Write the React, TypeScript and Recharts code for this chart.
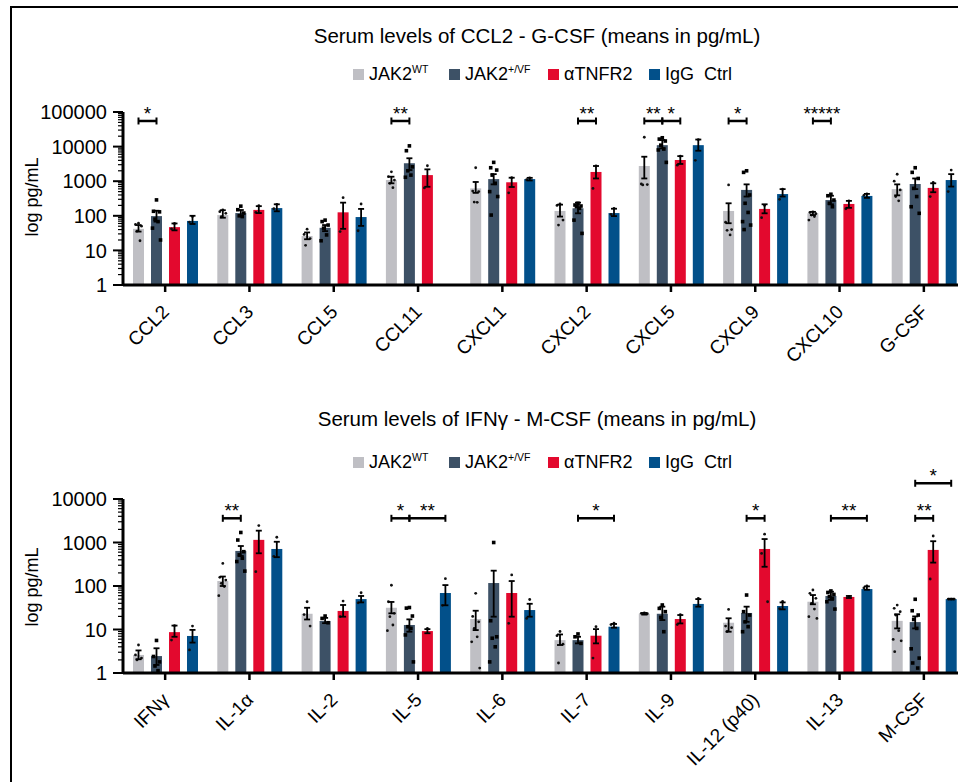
import React from 'react';
import { ComposedChart, Bar, XAxis, YAxis, ErrorBar } from 'recharts';

const FONT = '"Liberation Sans", Arial, Helvetica, sans-serif';
const SERIES = ['wt', 'vf', 'at', 'igg'];
const COLORS = ['#bfbfc4', '#3d5166', '#e3092e', '#02508a'];
const LEGEND_NAMES = [
  { base: 'JAK2', sup: 'WT' },
  { base: 'JAK2', sup: '+/VF' },
  { base: '\u03b1TNFR2', sup: '' },
  { base: 'IgG  Ctrl', sup: '' },
];
const TITLE_TOP = 'Serum levels of CCL2 - G-CSF (means in pg/mL)';
const TITLE_BOTTOM = 'Serum levels of IFN\u03b3 - M-CSF (means in pg/mL)';
const Y_LABEL = 'log pg/mL';

// ---------- Panel 1: CCL2 - G-CSF ----------
const chemCats = ['CCL2', 'CCL3', 'CCL5', 'CCL11', 'CXCL1', 'CXCL2', 'CXCL5', 'CXCL9', 'CXCL10', 'G-CSF'];
const chemTicks = [1, 10, 100, 1000, 10000, 100000];

const chemWtMean = [42, 105, 26, 1080, 620, 138, 2750, 138, 118, 590];
const chemWtLo = [35, 88, 21, 870, 460, 95, 1200, 61, 105, 390];
const chemWtHi = [54, 145, 33, 1350, 950, 210, 5100, 230, 130, 810];
const chemWtDots = [
  [61, 56, 50, 36, 19],
  [147, 132, 118, 94],
  [41, 29, 22, 14],
  [1870, 1350, 1080, 870, 650],
  [2450, 520, 500, 250, 245],
  [220, 200, 75, 54],
  [18600, 830, 800, 780],
  [780, 65, 40, 38, 28],
  [130, 125, 115, 105, 95, 75],
  [1590, 1000, 560, 360, 270],
];

const chemVfMean = [98, 120, 45, 3300, 1150, 165, 11000, 560, 285, 830];
const chemVfLo = [68, 100, 36, 2100, 810, 118, 8900, 360, 215, 590];
const chemVfHi = [140, 147, 54, 4600, 1600, 240, 15500, 810, 380, 1200];
const chemVfDots = [
  [288, 135, 130, 80, 68, 44, 20],
  [190, 150, 120, 100, 95],
  [75, 68, 54, 44, 28, 19],
  [10500, 7600, 2600, 2000, 1500, 1300],
  [3500, 2450, 2100, 1500, 870, 500, 360, 105],
  [230, 205, 192, 183, 165, 75, 31],
  [18000, 16500, 14500, 11000, 8500, 8000, 3500],
  [2000, 1800, 400, 230, 125, 68, 54, 40],
  [420, 380, 285, 230, 183],
  [2450, 1800, 1200, 620, 360, 183, 118],
];

const chemAtMean = [47, 148, 126, 1500, 930, 1850, 4100, 158, 220, 640];
const chemAtLo = [38, 120, 42, 690, 680, 1200, 3150, 118, 170, 480];
const chemAtHi = [60, 190, 240, 2200, 1260, 2750, 5300, 215, 270, 870];
const chemAtDots = [[60, 42], [195, 125], [333, 35], [2800, 640], [1260, 460], [2750, 620], [5300, 2900], [200, 88], [270, 160], [920, 360]];

const chemIgMean = [71, 167, 92, null, 1150, 120, 11000, 425, 375, 1080];
const chemIgLo = [58, 135, 51, null, 1050, 98, 7600, 360, 330, 700];
const chemIgHi = [100, 215, 158, null, 1250, 160, 16000, 590, 430, 1600];
const chemIgDots = [[95, 66], [215, 160], [219, 37], [], [1250, 1100], [165, 110], [16000, 4000], [590, 300], [430, 390], [2100, 500]];

const chemBrackets = [
  { cat: 'CCL2', from: 0, to: 1, label: '*', at: 55000 },
  { cat: 'CCL11', from: 0, to: 1, label: '**', at: 55000 },
  { cat: 'CXCL2', from: 1, to: 2, label: '**', at: 55000 },
  { cat: 'CXCL5', from: 0, to: 1, label: '**', at: 55000 },
  { cat: 'CXCL5', from: 1, to: 2, label: '*', at: 55000 },
  { cat: 'CXCL9', from: 0, to: 1, label: '*', at: 55000 },
  { cat: 'CXCL10', from: 0, to: 1, label: '*****', at: 55000 },
];

// ---------- Panel 2: IFNγ - M-CSF ----------
const cytoCats = ['IFN\u03b3', 'IL-1\u03b1', 'IL-2', 'IL-5', 'IL-6', 'IL-7', 'IL-9', 'IL-12 (p40)', 'IL-13', 'M-CSF'];
const cytoTicks = [1, 10, 100, 1000, 10000];

const cytoWtMean = [2.6, 130, 23, 31.6, 17.4, 5.7, 23, 14.3, 43.5, 15.8];
const cytoWtLo = [2.07, 100, 17, 23.5, 9.7, 4.4, 22, 8.9, 38, 10.6];
const cytoWtHi = [3.3, 165, 31.6, 43, 27, 7.7, 24, 18.1, 62, 22.4];
const cytoWtDots = [
  [4.4, 2.6, 2.2, 2.0],
  [330, 158, 137, 115, 97, 60],
  [43.5, 22, 12],
  [104, 43.5, 23.5, 19.7, 12.7, 9.4],
  [68, 20, 15, 10.6, 6.8, 5.2, 1.3],
  [9, 7.2, 4.6, 1.7],
  [24, 23.5, 23],
  [29, 12, 11, 9],
  [81, 68, 52, 40, 29.5, 19.7, 18],
  [36.5, 30.6, 25.7, 21.5, 9.4, 5.9, 5.5, 3.1],
];

const cytoVfMean = [2.45, 640, 15.7, 12.7, 117, 5.7, 23, 24, 59, 14.8];
const cytoVfLo = [1.53, 490, 14, 8.9, 19.7, 4.8, 16.5, 15, 48, 10.6];
const cytoVfHi = [3.7, 830, 18.5, 17.1, 225, 6.8, 33.5, 33.5, 74, 20];
const cytoVfDots = [
  [5.6, 2.4, 1.8, 1.45, 1.13],
  [1700, 1140, 615, 520, 435, 365, 220],
  [20.4, 18, 14.3],
  [32, 31, 20.4, 11.6, 10.6, 7.5, 1.8],
  [1000, 15.9, 6.8, 6.3, 4, 1.8],
  [7.9, 6.8, 4.8],
  [36.6, 30.6, 25.7, 19, 8.9],
  [62, 25.7, 21.5, 15, 11.6, 8.9],
  [77, 71, 64, 57, 52, 43.5, 29.5],
  [49.5, 27, 21.5, 17, 10.6, 3.6, 2.2, 1.7, 1.3],
];

const cytoAtMean = [8.7, 1150, 26.7, 9.2, 69, 7.2, 17.4, 710, 56, 675];
const cytoAtLo = [6.8, 565, 19.7, 8.2, 19.7, 4.8, 13.8, 277, 53, 345];
const cytoAtHi = [12.3, 1870, 36.6, 10.2, 130, 10.2, 21.5, 1200, 59, 1070];
const cytoAtDots = [[12.3, 5.7], [2450, 213], [45, 19.7], [10.6], [180, 13.9], [11.6, 2.2], [22, 13], [1550, 560, 43.5], [58], [1410, 145]];

const cytoIgMean = [7.1, 710, 50, 69, 28, 11.6, 38.7, 34.7, 85, 50];
const cytoIgLo = [5, 460, 42, 36, 19.7, 11, 33.5, 29, 82, 49];
const cytoIgHi = [9.8, 1040, 59, 105, 39, 13.4, 50, 42, 98, 51];
const cytoIgDots = [[12, 3.4], [1320, 480], [70, 41], [147, 36], [49, 18], [14, 13], [52], [44, 30], [100, 90], [50, 50, 50]];

const cytoBrackets = [
  { cat: 'IL-1\u03b1', from: 0, to: 1, label: '**', at: 3600 },
  { cat: 'IL-5', from: 0, to: 1, label: '*', at: 3600 },
  { cat: 'IL-5', from: 1, to: 3, label: '**', at: 3600 },
  { cat: 'IL-7', from: 1, to: 3, label: '*', at: 3600 },
  { cat: 'IL-12 (p40)', from: 1, to: 2, label: '*', at: 3600 },
  { cat: 'IL-13', from: 1, to: 3, label: '**', at: 3600 },
  { cat: 'M-CSF', from: 1, to: 2, label: '**', at: 3600 },
  { cat: 'M-CSF', from: 1, to: 3, label: '*', at: 23000 },
];

// ---------- helpers ----------
const BAR_SIZE = 11;
const BAR_GAP = 7;
const STEP = BAR_SIZE + BAR_GAP;
const JITTER = [0, -3, 3, -1.5, 1.5, -4, 4, -2.5, 2.5, -1, 1];

function buildRows(cats: string[], means: any[][], los: any[][], his: any[][], dots: number[][][], brackets: any[]) {
  return cats.map((name, i) => {
    const row: any = { name, brackets: brackets.filter((b) => b.cat === name) };
    SERIES.forEach((k, s) => {
      const m = means[s][i];
      row[k] = m;
      row[k + 'Err'] = m == null ? undefined : [m - los[s][i], his[s][i] - m];
      row[k + 'Dots'] = dots[s][i];
    });
    return row;
  });
}

const chemRows = buildRows(
  chemCats,
  [chemWtMean, chemVfMean, chemAtMean, chemIgMean],
  [chemWtLo, chemVfLo, chemAtLo, chemIgLo],
  [chemWtHi, chemVfHi, chemAtHi, chemIgHi],
  [chemWtDots, chemVfDots, chemAtDots, chemIgDots],
  chemBrackets
);
const cytoRows = buildRows(
  cytoCats,
  [cytoWtMean, cytoVfMean, cytoAtMean, cytoIgMean],
  [cytoWtLo, cytoVfLo, cytoAtLo, cytoIgLo],
  [cytoWtHi, cytoVfHi, cytoAtHi, cytoIgHi],
  [cytoWtDots, cytoVfDots, cytoAtDots, cytoIgDots],
  cytoBrackets
);

function allTicks(majors: number[]) {
  const out: number[] = [];
  for (let i = 0; i < majors.length; i++) {
    out.push(majors[i]);
    if (i < majors.length - 1) for (let m = 2; m <= 9; m++) out.push(majors[i] * m);
  }
  return out;
}

function makeShape(si: number, max: number) {
  return function Shape(props: any) {
    const { x, y, width, height, payload, background } = props;
    const mean = payload ? payload[SERIES[si]] : null;
    if (mean == null || !(height > 0)) return null;
    const bottom = y + height;
    const ppd = background && background.height > 0 ? background.height / Math.log10(max) : height / Math.log10(mean);
    const yOf = (v: number) => bottom - Math.log10(v) * ppd;
    const cx = x + width / 2;
    const dots: number[] = payload[SERIES[si] + 'Dots'] || [];
    const brackets: any[] = si === 0 ? payload.brackets || [] : [];
    return (
      <g>
        <rect x={x} y={y} width={width} height={height} fill={COLORS[si]} />
        {dots.map((d, i) => {
          const dx = cx + JITTER[i % JITTER.length];
          return si === 1 ? (
            <rect key={i} x={dx - 1.8} y={yOf(d) - 1.8} width={3.6} height={3.6} fill="#000" />
          ) : (
            <circle key={i} cx={dx} cy={yOf(d)} r={1.4} fill="#111" />
          );
        })}
        {brackets.map((b, i) => {
          const xa = cx + b.from * STEP;
          const xb = cx + b.to * STEP;
          const yb = yOf(b.at);
          return (
            <g key={'b' + i}>
              <line x1={xa} x2={xb} y1={yb} y2={yb} stroke="#000" strokeWidth={2.5} />
              <line x1={xa} x2={xa} y1={yb - 3.5} y2={yb + 3.5} stroke="#000" strokeWidth={2} />
              <line x1={xb} x2={xb} y1={yb - 3.5} y2={yb + 3.5} stroke="#000" strokeWidth={2} />
              <text x={(xa + xb) / 2} y={yb - 1} textAnchor="middle" fontSize={19} fontFamily={FONT} fill="#000">
                {b.label}
              </text>
            </g>
          );
        })}
      </g>
    );
  };
}

function makeYTick(majors: number[]) {
  return function YTick(props: any) {
    const { x, y, payload } = props;
    const isMajor = majors.includes(payload.value);
    return (
      <g>
        <line x1={x - (isMajor ? 10 : 5)} x2={x} y1={y} y2={y} stroke="#000" strokeWidth={isMajor ? 2 : 1.2} />
        {isMajor && (
          <text x={x - 16} y={y} dy="0.36em" textAnchor="end" fontSize={20} fontFamily={FONT} fill="#000">
            {String(payload.value)}
          </text>
        )}
      </g>
    );
  };
}

function XTick(props: any) {
  const { x, y, payload } = props;
  const ax = x + 5;
  const ay = y + 19;
  return (
    <text x={ax} y={ay} transform={`rotate(-45, ${ax}, ${ay})`} textAnchor="end" fontSize={19} fontFamily={FONT} fill="#000">
      {payload.value}
    </text>
  );
}

function Panel({ rows, majors, top, height, marginTop, axisHeight }: any) {
  const max = majors[majors.length - 1];
  return (
    <div style={{ position: 'absolute', left: 0, top, width: 980, height }}>
      <ComposedChart
        width={980}
        height={height}
        data={rows}
        margin={{ top: marginTop, right: 14, left: 63, bottom: 0 }}
        barGap={BAR_GAP}
        style={{ overflow: 'visible' }}
      >
        <XAxis
          dataKey="name"
          type="category"
          interval={0}
          height={axisHeight}
          tickSize={7}
          tickMargin={2}
          tickLine={{ stroke: '#000', strokeWidth: 2.5 }}
          axisLine={{ stroke: '#000', strokeWidth: 3 }}
          tick={<XTick />}
        />
        <YAxis
          type="number"
          scale="log"
          domain={[1, max]}
          ticks={allTicks(majors)}
          interval={0}
          width={60}
          tickSize={0}
          tickMargin={0}
          tickLine={false}
          axisLine={{ stroke: '#000', strokeWidth: 3 }}
          tick={makeYTick(majors)}
        />
        {SERIES.map((k, si) => (
          <Bar key={k} dataKey={k} barSize={BAR_SIZE} fill={COLORS[si]} isAnimationActive={false} shape={makeShape(si, max)}>
            <ErrorBar dataKey={k + 'Err'} width={3} strokeWidth={1.8} stroke="#000" direction="y" isAnimationActive={false} />
          </Bar>
        ))}
      </ComposedChart>
    </div>
  );
}

function LegendRow({ y }: { y: number }) {
  const sq = [353, 449, 548, 649];
  return (
    <g>
      {LEGEND_NAMES.map((n, i) => (
        <g key={i}>
          <rect x={sq[i]} y={y - 11} width={11} height={11} fill={COLORS[i]} />
          <text x={sq[i] + 16} y={y} fontSize={18} fontFamily={FONT} fill="#000" style={{ whiteSpace: 'pre' }}>
            {n.base}
            {n.sup && (
              <tspan dy={-7} fontSize={10.5}>
                {n.sup}
              </tspan>
            )}
          </text>
        </g>
      ))}
    </g>
  );
}

export default function App() {
  return (
    <div style={{ position: 'absolute', left: 0, top: 0, width: 958, height: 782, overflow: 'hidden', background: '#fff' }}>
      <Panel rows={chemRows} majors={chemTicks} top={0} height={390} marginTop={112} axisHeight={105} />
      <Panel rows={cytoRows} majors={cytoTicks} top={390} height={392} marginTop={109} axisHeight={109} />
      <svg width={958} height={782} style={{ position: 'absolute', left: 0, top: 0, pointerEvents: 'none' }}>
        <line x1={11} x2={11} y1={6} y2={782} stroke="#000" strokeWidth={2} />
        <line x1={10} x2={958} y1={7} y2={7} stroke="#000" strokeWidth={2} />
        <text x={537} y={43} textAnchor="middle" fontSize={20.5} fontFamily={FONT} fill="#000">
          {TITLE_TOP}
        </text>
        <LegendRow y={80} />
        <text transform="translate(38,197) rotate(-90)" textAnchor="middle" fontSize={18} fontFamily={FONT} fill="#000">
          {Y_LABEL}
        </text>
        <text x={537} y={426} textAnchor="middle" fontSize={20.5} fontFamily={FONT} fill="#000">
          {TITLE_BOTTOM}
        </text>
        <LegendRow y={468} />
        <text transform="translate(38,587) rotate(-90)" textAnchor="middle" fontSize={18} fontFamily={FONT} fill="#000">
          {Y_LABEL}
        </text>
      </svg>
    </div>
  );
}
